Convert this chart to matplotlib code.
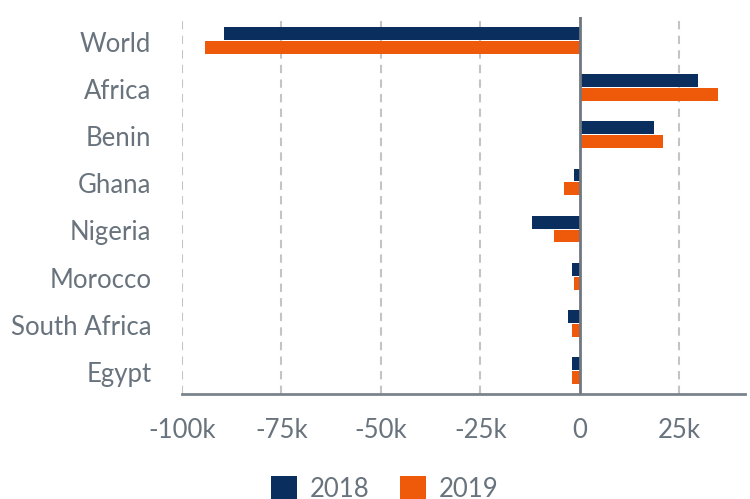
import matplotlib.pyplot as plt
import numpy as np

# net migration, thousands
countries = ['World', 'Africa', 'Benin', 'Ghana', 'Nigeria', 'Morocco', 'South Africa', 'Egypt']
vals_2018 = [-89.5, 29.7, 18.6, -1.5, -12.1, -2.0, -3.0, -2.0]
vals_2019 = [-94.1, 34.7, 20.9, -4.0, -6.5, -1.5, -2.0, -2.0]
xticks = [-100, -75, -50, -25, 0, 25]
xlabels = ['-100k', '-75k', '-50k', '-25k', '0', '25k']

navy = '#0a2f5f'
orange = '#ee5a0a'
txt = '#68737d'

plt.rcParams['font.family'] = ['Lato', 'DejaVu Sans']

fig = plt.figure(figsize=(7.5, 4.99), dpi=100)
ax = fig.add_axes([182/750, 1-394/499, (745-182)/750, (394-17)/499])

y = np.arange(len(countries))
h = 0.275
ax.barh(y - h/2 - 0.01, vals_2018, height=h, color=navy, label='2018', zorder=3)
ax.barh(y + h/2 + 0.01, vals_2019, height=h, color=orange, label='2019', zorder=3)

ax.set_ylim(len(countries) - 0.5, -0.5)
ax.set_xlim(-100, 41.5)
ax.set_yticks(y + 0.03)
ax.set_yticklabels(countries)
ax.set_xticks(xticks)
ax.set_xticklabels(xlabels)

for t in xticks:
    if t == 0:
        ax.axvline(0, color='#6f7880', lw=2, zorder=4)
    else:
        ax.axvline(t, color='#c2c4c7', lw=1.5, ls=(0, (4, 3)), zorder=1)

for s in ['top', 'right', 'left']:
    ax.spines[s].set_visible(False)
ax.spines['bottom'].set_color('#7a838c')
ax.spines['bottom'].set_linewidth(2)
ax.tick_params(axis='both', length=0, labelsize=18.5, labelcolor=txt)
ax.tick_params(axis='x', pad=17.5)
ax.tick_params(axis='y', pad=22)

# legend sits at the bottom edge, partly cut off like the original
fig.legend(loc='center', bbox_to_anchor=(0.513, 1 - 489/499), ncol=2, frameon=False,
           fontsize=18.5, labelcolor=txt, handlelength=1.0, handleheight=1.0,
           handletextpad=0.5, columnspacing=1.2)

fig.savefig('out.png', dpi=100)
